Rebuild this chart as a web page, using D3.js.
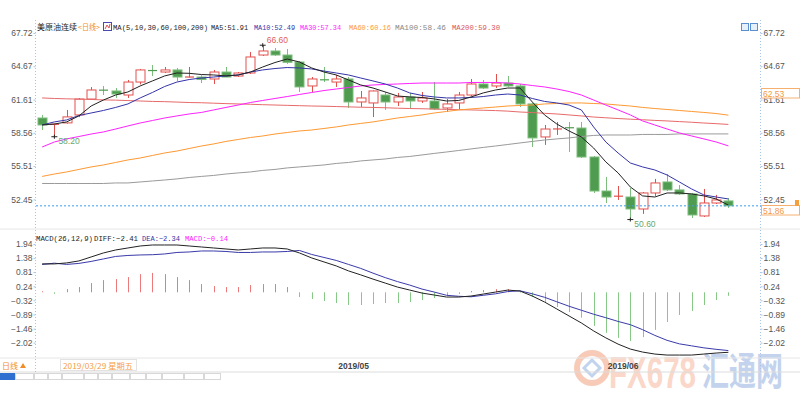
<!DOCTYPE html>
<html><head><meta charset="utf-8">
<script src="https://cdn.jsdelivr.net/npm/d3@7/dist/d3.min.js"></script>
<style>html,body{margin:0;padding:0;background:#fff;}svg{display:block;}</style>
</head><body>
<svg id="c" width="800" height="400"></svg>
<script>
// ---------------- DATA ----------------
const dates = ["2019/03/27","2019/03/28","2019/03/29","2019/04/01","2019/04/02","2019/04/03","2019/04/04","2019/04/05",
"2019/04/08","2019/04/09","2019/04/10","2019/04/11","2019/04/12","2019/04/15","2019/04/16","2019/04/17","2019/04/18",
"2019/04/22","2019/04/23","2019/04/24","2019/04/25","2019/04/26","2019/04/29","2019/04/30","2019/05/01","2019/05/02",
"2019/05/03","2019/05/06","2019/05/07","2019/05/08","2019/05/09","2019/05/10","2019/05/13","2019/05/14","2019/05/15",
"2019/05/16","2019/05/17","2019/05/20","2019/05/21","2019/05/22","2019/05/23","2019/05/24","2019/05/28","2019/05/29",
"2019/05/30","2019/05/31","2019/06/03","2019/06/04","2019/06/05","2019/06/06","2019/06/07","2019/06/10","2019/06/11",
"2019/06/12","2019/06/13","2019/06/14","2019/06/17"];
const open  = [59.92,59.30,59.47,60.20,61.66,62.50,62.40,62.03,63.22,64.30,64.14,64.33,63.66,63.68,63.50,64.14,63.77,64.05,65.70,66.07,65.70,65.06,62.86,63.45,63.22,63.50,61.39,61.30,62.03,61.39,61.85,61.48,61.48,60.84,61.30,62.03,63.04,62.86,63.13,62.86,61.21,58.18,58.88,59.05,59.00,56.34,53.22,52.72,52.67,51.57,53.04,54.05,53.32,52.95,50.93,52.12,52.31];
const high  = [60.20,59.40,60.66,61.75,62.76,62.86,62.67,63.41,64.42,64.78,64.60,64.51,64.60,63.86,64.33,64.60,64.14,65.98,66.60,66.34,66.25,65.15,63.68,64.60,63.87,63.68,62.40,62.45,62.31,62.22,62.22,62.31,63.22,61.66,62.31,63.50,63.41,63.96,63.77,63.04,61.30,59.28,59.55,59.55,59.55,56.43,54.51,53.68,53.50,53.13,54.33,54.78,53.77,53.04,53.41,52.86,52.58];
const low   = [58.82,58.20,59.40,60.00,61.57,62.03,61.76,61.76,63.00,63.77,64.05,63.32,63.64,63.13,63.04,63.68,63.68,63.96,65.61,65.61,64.88,62.31,62.31,63.22,62.77,60.84,60.93,60.01,60.66,61.02,60.75,61.30,60.66,60.47,60.66,61.94,62.58,62.67,62.77,60.93,57.26,57.45,58.36,56.80,56.25,53.04,52.12,52.40,50.60,51.12,52.77,53.22,52.86,50.75,50.84,52.03,51.67];
const close = [59.28,59.38,60.02,61.66,62.49,62.45,62.12,63.22,64.33,64.25,64.33,63.68,63.70,63.45,64.14,63.68,64.05,65.52,66.07,65.70,65.03,62.77,63.50,63.40,63.50,61.39,61.76,62.40,61.39,61.85,61.48,61.76,60.75,61.21,62.03,63.04,62.67,63.13,62.86,61.21,58.09,58.91,58.95,59.00,56.34,53.22,52.67,52.77,51.57,53.04,53.96,53.32,52.95,51.02,52.12,52.40,51.86];

const ma5   = [59.28,59.37,59.56,60.11,61.02,61.57,62.03,62.31,62.86,63.32,63.78,64.05,64.02,63.91,63.87,63.78,63.87,64.14,64.60,65.01,65.33,65.06,64.51,64.14,63.87,63.41,62.95,62.67,62.31,61.94,61.85,61.80,61.67,61.48,61.53,61.85,62.22,62.49,62.67,62.67,61.39,60.20,59.37,58.73,58.18,57.17,55.89,54.88,53.59,52.77,52.67,53.04,53.04,52.95,52.77,52.49,51.93];
const ma10  = [59.28,59.56,59.74,60.15,60.38,60.61,60.89,61.21,61.76,62.26,62.81,63.22,63.45,63.59,63.68,63.78,63.87,64.14,64.33,64.46,64.55,64.51,64.42,64.23,64.05,63.87,63.59,63.32,63.04,62.67,62.22,61.99,61.85,61.76,61.76,61.80,61.89,62.03,62.12,62.03,61.71,61.44,61.30,61.11,60.66,59.10,57.72,56.71,55.79,55.43,55.15,54.69,54.05,53.41,52.86,52.67,52.49];
const ma30  = [57.26,57.72,58.00,58.22,58.45,58.64,58.91,59.19,59.46,59.69,59.92,60.11,60.29,60.43,60.66,60.89,61.11,61.34,61.53,61.71,61.89,62.08,62.26,62.44,62.58,62.72,62.86,62.95,63.00,63.04,63.09,63.13,63.13,63.13,63.13,63.18,63.18,63.18,63.13,63.04,62.90,62.77,62.58,62.35,62.03,61.57,61.11,60.66,60.20,59.65,59.28,58.91,58.55,58.27,58.00,57.72,57.36];
const ma60  = [54.56,54.78,54.97,55.20,55.43,55.61,55.84,56.07,56.25,56.48,56.71,56.89,57.12,57.35,57.54,57.77,57.95,58.13,58.27,58.45,58.59,58.73,58.82,58.96,59.10,59.28,59.42,59.56,59.74,59.92,60.06,60.20,60.38,60.52,60.66,60.75,60.84,60.93,61.02,61.07,61.11,61.21,61.25,61.30,61.30,61.25,61.21,61.11,61.02,60.89,60.79,60.70,60.61,60.52,60.43,60.33,60.18];
const ma100 = [53.91,53.91,53.91,53.91,53.91,53.91,53.96,53.96,54.05,54.14,54.23,54.33,54.46,54.56,54.65,54.78,54.88,54.97,55.11,55.20,55.34,55.43,55.52,55.61,55.75,55.84,55.98,56.07,56.16,56.30,56.39,56.53,56.67,56.80,56.94,57.08,57.22,57.35,57.49,57.63,57.77,57.90,58.00,58.09,58.22,58.32,58.36,58.36,58.36,58.41,58.41,58.41,58.46,58.46,58.46,58.46,58.46];
const ma200 = [61.76,61.71,61.68,61.65,61.62,61.58,61.56,61.52,61.48,61.44,61.42,61.38,61.34,61.32,61.28,61.24,61.21,61.18,61.14,61.11,61.08,61.05,61.02,61.00,60.97,60.94,60.91,60.89,60.86,60.82,60.79,60.77,60.74,60.71,60.68,60.66,60.63,60.60,60.55,60.47,60.42,60.35,60.29,60.20,60.11,60.01,59.94,59.87,59.81,59.76,59.70,59.65,59.59,59.53,59.46,59.40,59.33];

const diff = [1.14,1.14,1.18,1.26,1.42,1.58,1.70,1.78,1.86,1.90,1.90,1.90,1.86,1.82,1.78,1.74,1.70,1.74,1.78,1.78,1.74,1.58,1.38,1.22,1.06,0.86,0.70,0.53,0.37,0.21,0.09,-0.03,-0.11,-0.19,-0.19,-0.15,-0.07,0.01,0.09,0.05,-0.15,-0.39,-0.67,-0.95,-1.23,-1.55,-1.83,-2.08,-2.28,-2.40,-2.48,-2.52,-2.52,-2.52,-2.48,-2.44,-2.41];
const dea  = [1.12,1.17,1.12,1.16,1.24,1.34,1.44,1.48,1.50,1.51,1.54,1.60,1.62,1.66,1.66,1.64,1.60,1.60,1.62,1.62,1.64,1.68,1.52,1.40,1.28,1.12,0.96,0.77,0.59,0.43,0.29,0.13,0.01,-0.12,-0.16,-0.18,-0.12,-0.06,0.03,0.06,-0.06,-0.20,-0.38,-0.56,-0.72,-0.88,-1.02,-1.17,-1.30,-1.50,-1.73,-1.93,-2.07,-2.15,-2.23,-2.29,-2.34];
const macd = [0.04,-0.06,0.13,0.21,0.37,0.49,0.53,0.61,0.73,0.78,0.73,0.61,0.49,0.33,0.25,0.21,0.21,0.29,0.33,0.33,0.21,-0.19,-0.27,-0.35,-0.43,-0.51,-0.51,-0.47,-0.43,-0.43,-0.39,-0.31,-0.23,-0.15,-0.07,0.05,0.09,0.13,0.13,-0.02,-0.19,-0.39,-0.59,-0.79,-1.02,-1.35,-1.63,-1.83,-1.96,-1.80,-1.51,-1.19,-0.91,-0.75,-0.51,-0.31,-0.14];

const priceTicks = [67.72,64.67,61.61,58.56,55.51,52.45];
const macdTicks  = [1.94,1.38,0.81,0.24,-0.32,-0.89,-1.46,-2.02];
const monthLabels = [["2019/05/01","2019/05"],["2019/06/03","2019/06"]];
const maNames  = ["MA5","MA10","MA30","MA60","MA100","MA200"];
const maLast   = [51.91,52.49,57.34,60.16,58.46,59.30];
const macdNames = ["DIFF","DEA","MACD"];
const macdLast  = [-2.41,-2.34,-0.14];
const lastPrice = 51.86, markPrice = 62.53;
const highMark = 66.60, lowMarkA = 58.20, lowMarkB = 50.60;
const cursorDate = "2019/03/29 星期五";

// ---------------- DRAW ----------------
const svg = d3.select("#c");
const SANS = "'Liberation Sans', Arial, sans-serif";
const MONO = "'Liberation Mono', 'DejaVu Sans Mono', monospace";
const CJK  = "'Noto Sans CJK SC', sans-serif";

const x  = d3.scaleLinear().domain([-0.5, dates.length + 1.5]).range([36, 759]);
const y  = d3.scaleLinear().domain([52.45, 67.72]).range([199.4, 33]);
const ym = d3.scaleLinear().domain([-2.02, 1.94]).range([342.6, 244]);

const maColors = ["#222222","#3434a8","#ff22ff","#ff9933","#9a9a9a","#e86a6a"];
const UP = "#e2504c", DOWN = "#4f9b4f", DOWNW = "#7dbd7d";

// watermark (behind)
const wm = svg.append("g").attr("opacity", 0.55);
wm.append("circle").attr("cx", 592).attr("cy", 368).attr("r", 15)
  .attr("fill", "none").attr("stroke", "#f2a27e").attr("stroke-width", 6);
wm.append("path").attr("d", "M584,368 L592,360 L600,368 L592,376 Z").attr("fill", "none").attr("stroke", "#8fb0e0").attr("stroke-width", 3);
wm.append("text").attr("transform", "translate(609,388) scale(1,1.55)").attr("font-family", SANS).attr("font-weight", "bold")
  .attr("font-size", 29).attr("textLength", 87).attr("lengthAdjust", "spacingAndGlyphs")
  .attr("fill", "#f7b79c").text("FX678");
wm.append("text").attr("transform", "translate(702,385) scale(1,1.45)").attr("font-family", CJK).attr("font-weight", "bold")
  .attr("font-size", 27).attr("textLength", 81).attr("lengthAdjust", "spacingAndGlyphs")
  .attr("fill", "#94b0df").text("汇通网");

// separators
[[229,"#e6e6e6"],[358,"#e6e6e6"],[372,"#dcdcdc"]].forEach(([yy,c]) =>
  svg.append("line").attr("x1", 0).attr("x2", 800).attr("y1", yy).attr("y2", yy).attr("stroke", c));

// dotted axis lines
[35.5, 760.5].forEach(xx =>
  svg.append("line").attr("x1", xx).attr("x2", xx).attr("y1", 20).attr("y2", 372)
    .attr("stroke", "#a9c4e6").attr("stroke-dasharray", "1,2"));

function styleAxis(g){
  g.select(".domain").remove();
  g.selectAll("line").attr("stroke", "#a9c4e6");
  g.selectAll("text").attr("font-family", SANS).attr("font-size", 8.5).attr("fill", "#555");
}
const fmt = d3.format(".2f");
svg.append("g").attr("transform", "translate(35.5,0)")
  .call(d3.axisLeft(y).tickValues(priceTicks).tickFormat(fmt).tickSize(2).tickPadding(1)).call(styleAxis);
svg.append("g").attr("transform", "translate(760.5,0)")
  .call(d3.axisRight(y).tickValues(priceTicks).tickFormat(fmt).tickSize(2).tickPadding(1)).call(styleAxis);
svg.append("g").attr("transform", "translate(35.5,0)")
  .call(d3.axisLeft(ym).tickValues(macdTicks).tickFormat(fmt).tickSize(2).tickPadding(1)).call(styleAxis);
svg.append("g").attr("transform", "translate(760.5,0)")
  .call(d3.axisRight(ym).tickValues(macdTicks).tickFormat(fmt).tickSize(2).tickPadding(1)).call(styleAxis);

const maSeries = [ma200, ma100, ma60, ma30, ma10, ma5];
const maCol = [maColors[5], maColors[4], maColors[3], maColors[2], maColors[1], maColors[0]];
const line = d3.line().x((d,i) => x(i)).y(d => y(d));

// candles
const cg = svg.append("g");
const BW = 9;
dates.forEach((d, i) => {
  const o = open[i], c = close[i], h = high[i], l = low[i];
  const up = c >= o;
  const cx = Math.round(x(i)) + 0.5;
  const top = y(Math.max(o, c)), bot = y(Math.min(o, c));
  cg.append("line").attr("x1", cx).attr("x2", cx).attr("y1", y(h)).attr("y2", y(l))
    .attr("stroke", up ? UP : DOWNW).attr("stroke-width", 1);
  if (bot - top < 1.5) {
    cg.append("line").attr("x1", cx - BW/2).attr("x2", cx + BW/2).attr("y1", (top+bot)/2).attr("y2", (top+bot)/2)
      .attr("stroke", up ? UP : DOWN).attr("stroke-width", 1.2);
  } else if (up) {
    cg.append("rect").attr("x", cx - BW/2).attr("y", top).attr("width", BW).attr("height", bot - top)
      .attr("fill", "#fff").attr("stroke", UP).attr("stroke-width", 1);
  } else {
    cg.append("rect").attr("x", cx - BW/2).attr("y", top).attr("width", BW).attr("height", bot - top)
      .attr("fill", DOWN).attr("stroke", DOWNW).attr("stroke-width", 1);
  }
});

maSeries.forEach((s, k) => {
  svg.append("path").attr("d", line(s)).attr("fill", "none").attr("stroke", maCol[k]).attr("stroke-width", 1);
});

// last price dashed line
svg.append("line").attr("x1", 36).attr("x2", 761).attr("y1", y(lastPrice)).attr("y2", y(lastPrice))
  .attr("stroke", "#3d9cf0").attr("stroke-dasharray", "2,2");

// high / low markers
function mark(i, v, dy, col){
  const cx = x(i);
  svg.append("line").attr("x1", cx - 3).attr("x2", cx + 3).attr("y1", y(v)).attr("y2", y(v)).attr("stroke", "#222");
  svg.append("line").attr("x1", cx).attr("x2", cx).attr("y1", y(v) - 2).attr("y2", y(v) + 2).attr("stroke", "#222");
  svg.append("text").attr("x", cx + 4).attr("y", y(v) + dy).attr("font-family", SANS).attr("font-size", 8.5)
    .attr("fill", col).text(fmt(v));
}
mark(high.indexOf(highMark), highMark, -2, "#e0605a");
mark(low.indexOf(lowMarkA), lowMarkA, 7, "#6aa86a");
mark(low.indexOf(lowMarkB), lowMarkB, 7, "#6aa86a");

// right axis boxes
function box(v, yy){
  svg.append("rect").attr("x", 761.5).attr("y", yy).attr("width", 38).attr("height", 9.5)
    .attr("fill", "#fff").attr("stroke", "#f5b070").attr("stroke-width", 1);
  svg.append("text").attr("x", 763).attr("y", yy + 8).attr("font-family", SANS).attr("font-size", 8.5)
    .attr("fill", "#f39a3c").text(fmt(v));
}
box(markPrice, 88.5);
box(lastPrice, 205.5);
svg.append("rect").attr("x", 795).attr("y", 200).attr("width", 4).attr("height", 6).attr("fill", "#f5a040");

// top-right icons
[741, 750].forEach(xx => svg.append("rect").attr("x", xx + 0.5).attr("y", 23.5).attr("width", 7).attr("height", 7)
  .attr("fill", "#e6f0fb").attr("stroke", "#5b8fd0"));

// text helper
function txt(t, xx, yy, len, col, fam, fs){
  svg.append("text").attr("x", xx).attr("y", yy).attr("font-family", fam || MONO).attr("font-size", fs || 7.4)
    .attr("textLength", len).attr("lengthAdjust", "spacingAndGlyphs").attr("fill", col).text(t);
}
txt("美原油连续", 37, 30, 40, "#222", CJK, 8);
txt("<日线>", 78, 30, 22, "#f28c28", CJK, 7.5);
svg.append("rect").attr("x", 103.5).attr("y", 22.5).attr("width", 8).attr("height", 8).attr("fill", "#fff").attr("stroke", "#4a4ab0");
svg.append("path").attr("d", "M105,29 L107,25 L109,28 L110,24").attr("fill", "none").attr("stroke", "#e05050");
txt("MA(5,10,30,60,100,200)", 113, 30, 95, "#222");
const legX = [211, 254, 300, 349, 395, 452], legL = [37, 41, 41, 42, 51, 48];
maNames.forEach((n, k) => txt(n + ":" + fmt(maLast[k]), legX[k], 30, legL[k], k === 4 ? "#888" : (k === 5 ? "#e05555" : maColors[k])));

// MACD
svg.append("g").selectAll("line").data(macd).join("line")
  .attr("x1", (d,i) => Math.round(x(i)) + 0.5).attr("x2", (d,i) => Math.round(x(i)) + 0.5)
  .attr("y1", ym(0)).attr("y2", d => ym(d))
  .attr("stroke", d => d >= 0 ? "#ec7a7a" : "#86c886").attr("stroke-width", 1);
const lm = d3.line().x((d,i) => x(i)).y(d => ym(d));
svg.append("path").attr("d", lm(dea)).attr("fill", "none").attr("stroke", "#3a3aaa").attr("stroke-width", 1);
svg.append("path").attr("d", lm(diff)).attr("fill", "none").attr("stroke", "#222").attr("stroke-width", 1);

txt("MACD(26,12,9)", 36, 241, 57, "#222");
const mLegX = [94, 142, 185], mLegL = [44, 38, 43], mCol = ["#222", "#3434a8", "#ff22ff"];
macdNames.forEach((n, k) => txt(n + ":" + fmt(macdLast[k]), mLegX[k], 241, mLegL[k], mCol[k]));

// date row
txt("日线", 2, 369, 16, "#f28c28", CJK, 8);
svg.append("path").attr("d", "M20,368 L23,363 L26,368 Z").attr("fill", "#f28c28");
svg.append("rect").attr("x", 60.5).attr("y", 359.5).attr("width", 76).attr("height", 11).attr("fill", "#fff").attr("stroke", "#e2e2e2");
txt(cursorDate, 63, 369, 70, "#f5a040", CJK, 7.8);
monthLabels.forEach(([d, lab]) => {
  const i = dates.indexOf(d);
  svg.append("text").attr("x", x(i) + 2).attr("y", 369).attr("font-family", SANS).attr("font-size", 8.5)
    .attr("font-weight", "bold").attr("fill", "#444").text(lab);
});

// bottom tabs
const tabW = [15, 19, 14, 14, 22, 14, 14, 18, 16, 16, 22, 20, 17];
let tx = 0;
tabW.forEach((w, k) => {
  svg.append("rect").attr("x", tx + 0.5).attr("y", 373.5).attr("width", w - 1).attr("height", 6)
    .attr("fill", k === 0 ? "#2f6fcf" : "#fff").attr("stroke", k === 0 ? "#2f6fcf" : "#d8d8d8");
  tx += w;
});
</script>
</body></html>
